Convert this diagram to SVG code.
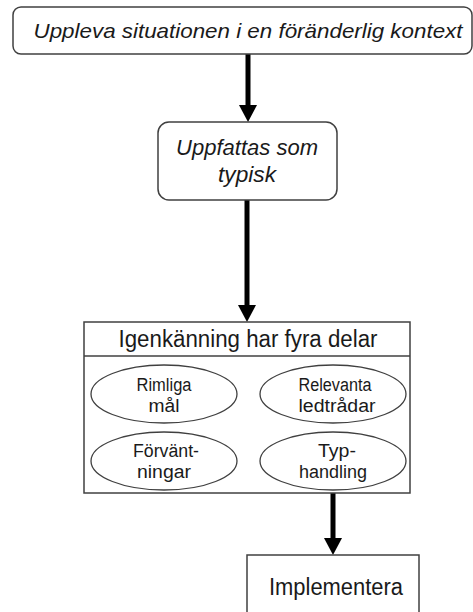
<svg xmlns="http://www.w3.org/2000/svg" width="473" height="612" viewBox="0 0 473 612">
<style>
.box{fill:#fff;stroke:#404040;stroke-width:1.5}
.ell{fill:#fff;stroke:#404040;stroke-width:1.3}
.t{font-family:"Liberation Sans",Arial,sans-serif;fill:#1a1a1a;text-anchor:middle}
.it{font-style:italic}
.e{font-size:18px}
.conn{stroke:#000;stroke-width:5;fill:none}
.head{fill:#000}
</style>
<g id="connectors">
<line class="conn" x1="248" y1="54" x2="248" y2="108"/>
<polygon class="head" points="239,105 257,105 248,122"/>
<line class="conn" x1="247" y1="200" x2="247" y2="308"/>
<polygon class="head" points="238,305 256,305 247,322"/>
<line class="conn" x1="333" y1="490" x2="333" y2="541"/>
<polygon class="head" points="324,538 342,538 333,555"/>
</g>
<g id="node-uppleva">
<rect class="box" x="13" y="7" width="459" height="47" rx="8"/>
<text class="t it" x="248" y="38" font-size="21" textLength="429" lengthAdjust="spacingAndGlyphs">Uppleva situationen i en föränderlig kontext</text>
</g>
<g id="node-uppfattas">
<rect class="box" x="158" y="122" width="179" height="78" rx="11"/>
<text class="t it" x="247" y="155" font-size="22" textLength="142" lengthAdjust="spacingAndGlyphs">Uppfattas som</text>
<text class="t it" x="247" y="182" font-size="22" textLength="58" lengthAdjust="spacingAndGlyphs">typisk</text>
</g>
<g id="node-igenkanning">
<rect class="box" x="84" y="322" width="326" height="171"/>
<line x1="84" y1="356" x2="410" y2="356" stroke="#404040" stroke-width="1.5"/>
<text class="t" x="248" y="347" font-size="23" textLength="259" lengthAdjust="spacingAndGlyphs">Igenkänning har fyra delar</text>
</g>
<g id="node-rimliga">
<ellipse class="ell" cx="164" cy="394" rx="73" ry="29"/>
<text class="t e" x="164" y="391" textLength="55" lengthAdjust="spacingAndGlyphs">Rimliga</text>
<text class="t e" x="164" y="412" textLength="31" lengthAdjust="spacingAndGlyphs">mål</text>
</g>
<g id="node-relevanta">
<ellipse class="ell" cx="333" cy="394" rx="73" ry="29"/>
<text class="t e" x="335" y="391" textLength="73" lengthAdjust="spacingAndGlyphs">Relevanta</text>
<text class="t e" x="337" y="412" textLength="77" lengthAdjust="spacingAndGlyphs">ledtrådar</text>
</g>
<g id="node-forvantningar">
<ellipse class="ell" cx="164" cy="461" rx="73" ry="29"/>
<text class="t e" x="166" y="457" textLength="66" lengthAdjust="spacingAndGlyphs">Förvänt-</text>
<text class="t e" x="164" y="478" textLength="54" lengthAdjust="spacingAndGlyphs">ningar</text>
</g>
<g id="node-typhandling">
<ellipse class="ell" cx="333" cy="461" rx="73" ry="29"/>
<text class="t e" x="337" y="457" textLength="38" lengthAdjust="spacingAndGlyphs">Typ-</text>
<text class="t e" x="333" y="478" textLength="68" lengthAdjust="spacingAndGlyphs">handling</text>
</g>
<g id="node-implementera">
<rect class="box" x="247" y="555" width="172" height="70"/>
<text class="t" x="336" y="595" font-size="23" textLength="134" lengthAdjust="spacingAndGlyphs">Implementera</text>
</g>
</svg>
